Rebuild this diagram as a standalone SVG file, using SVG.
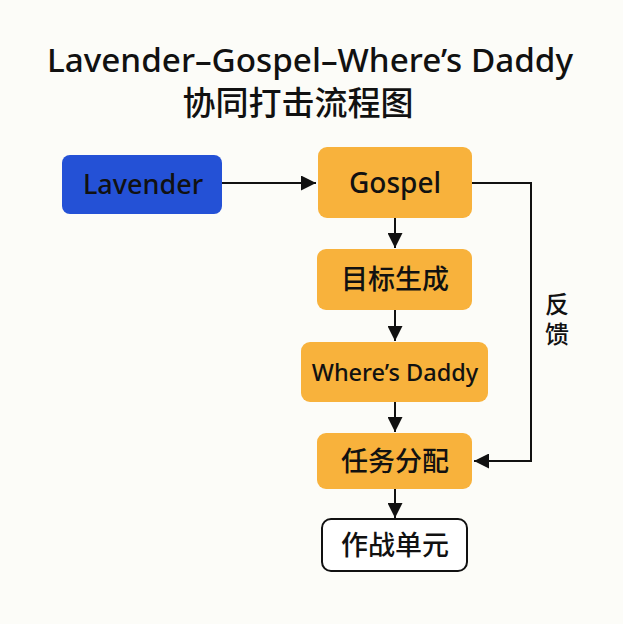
<svg xmlns="http://www.w3.org/2000/svg" width="623" height="624" viewBox="0 0 623 624">
<defs>
<style>
.t{font-family:"Noto Sans","Noto Sans CJK SC",sans-serif;fill:#111;text-anchor:middle}
.o{fill:#F8B23C}
.ln{stroke:#111;stroke-width:2;fill:none}
</style>
<marker id="a" viewBox="0 0 12 12" refX="12" refY="6" markerWidth="15" markerHeight="15" markerUnits="userSpaceOnUse" orient="auto">
<path d="M0,0 L12,6 L0,12 z" fill="#111"/>
</marker>
</defs>
<rect width="623" height="624" fill="#FCFCF8"/>
<g id="title">
<text class="t" x="310" y="72" font-size="32" font-weight="500" textLength="526" lengthAdjust="spacingAndGlyphs">Lavender–Gospel–Where’s Daddy</text>
<text class="t" x="298" y="115" font-size="33" font-weight="500">协同打击流程图</text>
</g>
<g id="connectors">
<path class="ln" d="M222,183 H316" marker-end="url(#a)"/>
<path class="ln" d="M395,218 V248" marker-end="url(#a)"/>
<path class="ln" d="M395,310 V341" marker-end="url(#a)"/>
<path class="ln" d="M395,402 V432" marker-end="url(#a)"/>
<path class="ln" d="M395,489 V518" marker-end="url(#a)"/>
<path class="ln" d="M472,183 H531 V461 H474" marker-end="url(#a)"/>
<text class="t" x="557" y="313" font-size="24" font-weight="500">反</text>
<text class="t" x="557" y="343" font-size="24" font-weight="500">馈</text>
</g>
<g id="lavender">
<rect x="62" y="155" width="160" height="59" rx="8" fill="#2451D6"/>
<text class="t" x="143" y="194" font-size="27" font-weight="500">Lavender</text>
</g>
<g id="gospel">
<rect class="o" x="318" y="147" width="154" height="71" rx="9"/>
<text class="t" x="395" y="193" font-size="28" font-weight="500">Gospel</text>
</g>
<g id="target">
<rect class="o" x="317" y="249" width="155" height="61" rx="9"/>
<text class="t" x="395" y="289" font-size="27" font-weight="500">目标生成</text>
</g>
<g id="wheresdaddy">
<rect class="o" x="301" y="342" width="187" height="60" rx="9"/>
<text class="t" x="395" y="381" font-size="23.5" font-weight="500">Where’s Daddy</text>
</g>
<g id="task">
<rect class="o" x="317" y="433" width="155" height="56" rx="9"/>
<text class="t" x="395" y="471" font-size="27" font-weight="500">任务分配</text>
</g>
<g id="unit">
<rect x="322" y="519" width="145" height="52" rx="9" fill="#fff" stroke="#111" stroke-width="2"/>
<text class="t" x="395" y="555" font-size="27" font-weight="500">作战单元</text>
</g>
</svg>
